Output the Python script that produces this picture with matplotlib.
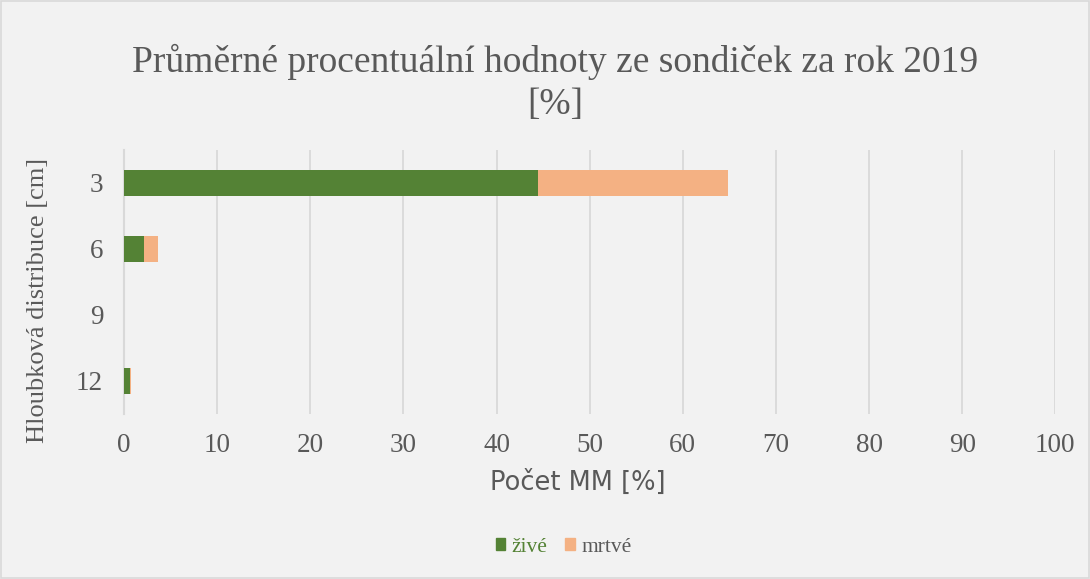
import numpy as np
import matplotlib.pyplot as plt
from matplotlib.patches import Patch

# data
hloubka = ['3', '6', '9', '12']
zive = [44.4, 2.1, 0.0, 0.6]
mrtve = [20.4, 1.5, 0.0, 0.2]

serif = 'Liberation Serif'
grey = '#595959'
c_zive = '#548235'
c_mrtve = '#f4b183'

fig = plt.figure(figsize=(10.9, 5.79), dpi=100)
fig.patch.set_facecolor('#f2f2f2')
ax = fig.add_axes([0.1138, 0.285, 0.8544, 0.456])
ax.set_facecolor('#f2f2f2')

y = np.arange(len(hloubka))
ax.barh(y, zive, height=0.4, color=c_zive, zorder=3)
ax.barh(y, mrtve, left=zive, height=0.4, color=c_mrtve, zorder=3)

ax.set_xlim(0, 100)
ax.set_ylim(len(hloubka) - 0.5, -0.5)
ax.set_xticks(np.arange(0, 101, 10))
ax.set_yticks(y)
ax.set_yticklabels(hloubka)
ax.tick_params(length=0, labelsize=19.5, colors=grey)
ax.tick_params(axis='x', pad=14)
ax.tick_params(axis='y', pad=15)
for lab in ax.get_xticklabels() + ax.get_yticklabels():
    lab.set_fontfamily(serif)
ax.grid(axis='x', color='#d9d9d9', lw=1.3, zorder=0)
for s in ['top', 'right', 'bottom']:
    ax.spines[s].set_visible(False)
ax.spines['left'].set_color('#d9d9d9')
ax.spines['left'].set_linewidth(1.5)

ax.set_xlabel('Počet MM [%]', fontsize=18.5, color=grey, family='DejaVu Sans')
ax.xaxis.set_label_coords(0.487, -0.21)
ax.set_ylabel('Hloubková distribuce [cm]', fontsize=19, color=grey, family=serif)
ax.yaxis.set_label_coords(-0.081, 0.43)

fig.text(0.509, 0.925, 'Průměrné procentuální hodnoty ze sondiček za rok 2019\n[%]',
         ha='center', va='top', fontsize=27, color=grey, family=serif, linespacing=1.3)

handles = [Patch(color=c_zive, label='živé'), Patch(color=c_mrtve, label='mrtvé')]
leg = fig.legend(handles=handles, loc='center', bbox_to_anchor=(0.517, 0.055), ncol=2,
                 frameon=False, prop={'family': serif, 'size': 15.5},
                 handlelength=0.45, handleheight=0.45, handletextpad=0.3, columnspacing=0.8)
leg.get_texts()[0].set_color(c_zive)
leg.get_texts()[1].set_color(grey)

# border
fig.add_artist(plt.Rectangle((0.001, 0.001), 0.998, 0.997, transform=fig.transFigure,
                             fill=False, ec='#d9d9d9', lw=1.2))

fig.savefig('out.png', dpi=100, facecolor=fig.get_facecolor())
